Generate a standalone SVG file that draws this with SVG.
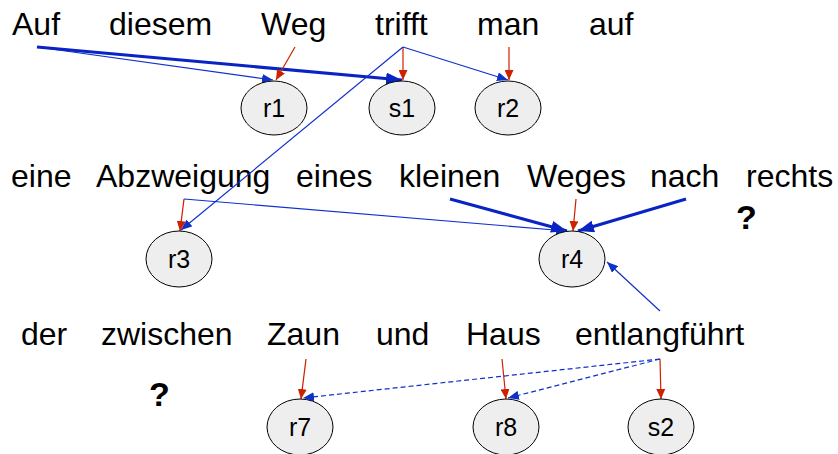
<svg xmlns="http://www.w3.org/2000/svg" width="838" height="454" viewBox="0 0 838 454">
<style>
.w{font-family:"Liberation Sans",Arial,sans-serif;font-size:32px;fill:#000}
.q{font-family:"Liberation Sans",Arial,sans-serif;font-size:34px;font-weight:bold;fill:#000}
.n ellipse{fill:#eeeeee;stroke:#000;stroke-width:1}
.n text{font-family:"Liberation Sans",Arial,sans-serif;font-size:25px;fill:#000;text-anchor:middle}
.r{stroke:#cc2200;stroke-width:1.2;fill:none;marker-end:url(#ra)}
.b{stroke:#1030cc;stroke-width:1.2;fill:none;marker-end:url(#ba)}
.bt{stroke:#0a24c4;stroke-width:3;fill:none;marker-end:url(#bb)}
.bd{stroke:#1030cc;stroke-width:1.2;fill:none;stroke-dasharray:5,3;marker-end:url(#ba)}
</style>
<defs>
<marker id="ra" markerUnits="userSpaceOnUse" markerWidth="10" markerHeight="9" refX="10" refY="4.5" orient="auto"><path d="M0,0 L10,4.5 L0,9 z" fill="#cc2200"/></marker>
<marker id="ba" markerUnits="userSpaceOnUse" markerWidth="11" markerHeight="9" refX="11" refY="4.5" orient="auto"><path d="M0,0 L11,4.5 L0,9 z" fill="#1030cc"/></marker>
<marker id="bb" markerUnits="userSpaceOnUse" markerWidth="16" markerHeight="12" refX="16" refY="6" orient="auto"><path d="M0,0 L16,6 L0,12 z" fill="#0a24c4"/></marker>
</defs>
<g id="words">
<text class="w" x="12" y="35">Auf</text>
<text class="w" x="109" y="35">diesem</text>
<text class="w" x="261" y="35">Weg</text>
<text class="w" x="375" y="35">trifft</text>
<text class="w" x="477" y="35">man</text>
<text class="w" x="589" y="35">auf</text>
<text class="w" x="11" y="187">eine</text>
<text class="w" x="96" y="187">Abzweigung</text>
<text class="w" x="296" y="187">eines</text>
<text class="w" x="399" y="187">kleinen</text>
<text class="w" x="527" y="187">Weges</text>
<text class="w" x="650" y="187">nach</text>
<text class="w" x="746" y="187">rechts</text>
<text class="w" x="21" y="345">der</text>
<text class="w" x="101" y="345">zwischen</text>
<text class="w" x="267" y="345">Zaun</text>
<text class="w" x="376" y="345">und</text>
<text class="w" x="466" y="345">Haus</text>
<text class="w" x="575" y="345">entlangführt</text>
<text class="q" x="736" y="229">?</text>
<text class="q" x="149" y="406">?</text>
</g>
<g id="connectors">
<line class="b" x1="37" y1="47" x2="273" y2="80"/>
<line class="bt" x1="37" y1="47" x2="402" y2="80"/>
<line class="r" x1="295" y1="47" x2="276" y2="80"/>
<line class="r" x1="403" y1="47" x2="403" y2="80"/>
<line class="b" x1="403" y1="47" x2="508" y2="80"/>
<line class="b" x1="403" y1="47" x2="181" y2="230"/>
<line class="r" x1="509" y1="47" x2="509" y2="80"/>
<line class="r" x1="184" y1="199" x2="180" y2="231"/>
<line class="b" x1="184" y1="199" x2="567" y2="231"/>
<line class="bt" x1="450" y1="199" x2="567" y2="231"/>
<line class="r" x1="576" y1="199" x2="573" y2="231"/>
<line class="bt" x1="686" y1="199" x2="578" y2="231"/>
<line class="b" x1="660" y1="311" x2="607" y2="262"/>
<line class="r" x1="306" y1="359" x2="301" y2="399"/>
<line class="r" x1="502" y1="359" x2="506" y2="399"/>
<line class="r" x1="660" y1="359" x2="661" y2="399"/>
<line class="bd" x1="660" y1="359" x2="303" y2="398"/>
<line class="bd" x1="660" y1="359" x2="508" y2="398"/>
</g>
<g id="r1" class="n"><ellipse cx="274" cy="108" rx="33" ry="27"/><text x="274" y="117">r1</text></g>
<g id="s1" class="n"><ellipse cx="402" cy="108" rx="33" ry="27"/><text x="402" y="117">s1</text></g>
<g id="r2" class="n"><ellipse cx="508" cy="108" rx="33" ry="27"/><text x="508" y="117">r2</text></g>
<g id="r3" class="n"><ellipse cx="179" cy="259" rx="33" ry="28"/><text x="179" y="268">r3</text></g>
<g id="r4" class="n"><ellipse cx="572" cy="259" rx="33" ry="28"/><text x="572" y="268">r4</text></g>
<g id="r7" class="n"><ellipse cx="300" cy="427" rx="33" ry="28"/><text x="300" y="436">r7</text></g>
<g id="r8" class="n"><ellipse cx="506" cy="427" rx="33" ry="28"/><text x="506" y="436">r8</text></g>
<g id="s2" class="n"><ellipse cx="661" cy="427" rx="33" ry="28"/><text x="661" y="436">s2</text></g>
</svg>
